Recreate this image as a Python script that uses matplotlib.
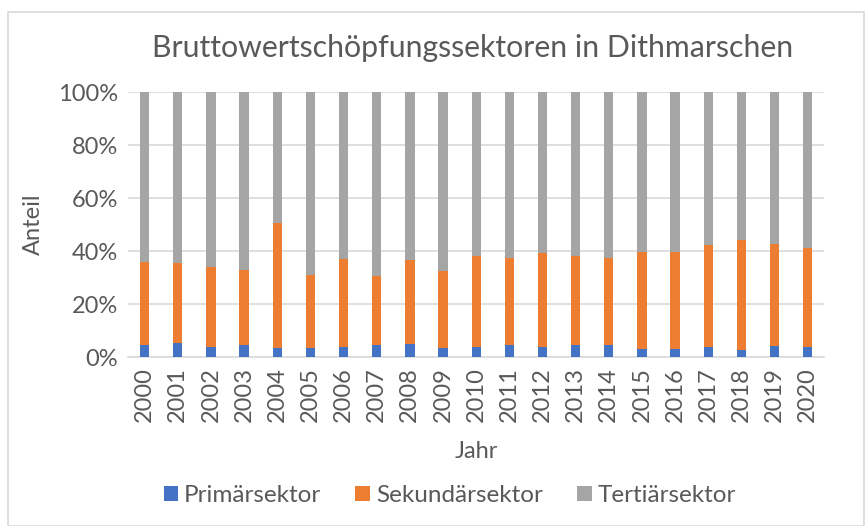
import matplotlib
matplotlib.use("Agg")
import matplotlib.pyplot as plt
import numpy as np
from matplotlib.patches import Rectangle

years = [str(y) for y in range(2000, 2021)]
primaer = [4.7, 5.2, 4.0, 4.4, 3.3, 3.4, 3.7, 4.4, 4.8, 3.4, 3.7,
           4.4, 4.0, 4.4, 4.4, 2.9, 2.9, 3.9, 2.7, 4.2, 3.7]
# cumulative top of the orange segment
sek_top = [35.9, 35.7, 34.1, 32.9, 50.5, 31.0, 36.9, 30.6, 36.6, 32.4, 38.2,
           37.3, 39.1, 38.2, 37.3, 39.5, 39.5, 42.3, 44.2, 42.7, 41.0]

primaer = np.array(primaer) / 100
sekundaer = np.array(sek_top) / 100 - primaer
tertiaer = 1 - primaer - sekundaer

COLORS = {"prim": "#4472C4", "sek": "#ED7D31", "ter": "#A5A5A5"}
TEXT = "#595959"

plt.rcParams["font.family"] = ["Lato", "DejaVu Sans"]

fig = plt.figure(figsize=(8.65, 5.26), dpi=100)
fig.patches.append(Rectangle((0.009, 0.0), 0.99, 0.977, transform=fig.transFigure,
                             fill=False, edgecolor="#d9d9d9", lw=1.2))
ax = fig.add_axes([0.148, 0.321, 0.805, 0.504])

x = np.arange(len(years))
w = 0.28
ax.bar(x, primaer, w, color=COLORS["prim"], label="Primärsektor", zorder=3)
ax.bar(x, sekundaer, w, bottom=primaer, color=COLORS["sek"], label="Sekundärsektor", zorder=3)
ax.bar(x, tertiaer, w, bottom=primaer + sekundaer, color=COLORS["ter"], label="Tertiärsektor", zorder=3)

ax.set_xlim(-0.5, len(years) - 0.5)
ax.set_ylim(0, 1)
ax.set_yticks(np.arange(0, 1.01, 0.2))
ax.set_yticklabels([f"{int(round(v * 100))}%" for v in np.arange(0, 1.01, 0.2)])
ax.set_xticks(x)
ax.set_xticklabels(years, rotation=90)
ax.tick_params(length=0, labelsize=17, labelcolor=TEXT, pad=7)
ax.grid(axis="y", color="#d9d9d9", lw=1.2, zorder=0)
for s in ["top", "right", "left"]:
    ax.spines[s].set_visible(False)
ax.spines["bottom"].set_color("#d9d9d9")
ax.spines["bottom"].set_linewidth(1.2)

ax.set_xlabel("Jahr", fontsize=17, color=TEXT, labelpad=14)
ax.set_ylabel("Anteil", fontsize=17, color=TEXT, labelpad=10)
fig.text(0.546, 0.908, "Bruttowertschöpfungssektoren in Dithmarschen",
         ha="center", va="center", fontsize=21.8, color=TEXT)

fig.legend(loc="center", bbox_to_anchor=(0.52, 0.058), ncol=3, frameon=False,
           fontsize=17.5, labelcolor=TEXT, handlelength=0.6, handleheight=0.6,
           handletextpad=0.25, columnspacing=1.4)

fig.savefig("out.png", dpi=100)
